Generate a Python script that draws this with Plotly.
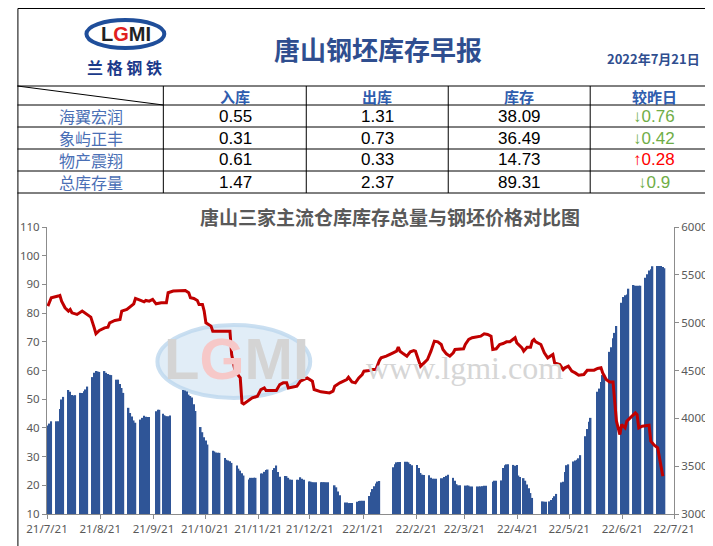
import pandas as pd
import plotly.graph_objects as go

# warehouse stock (10k t), one run of consecutive trading days per entry
bar_starts = [
    "2021-07-21", "2021-07-26", "2021-08-02", "2021-08-09", "2021-08-16",
    "2021-08-23", "2021-08-30", "2021-09-06", "2021-09-13", "2021-09-22",
    "2021-09-26", "2021-10-08", "2021-10-18", "2021-10-25", "2021-11-01",
    "2021-11-08", "2021-11-15", "2021-11-22", "2021-11-29", "2021-12-06",
    "2021-12-13", "2021-12-20", "2021-12-27", "2022-01-04", "2022-01-10",
    "2022-01-17", "2022-01-24", "2022-02-07", "2022-02-14", "2022-02-21",
    "2022-02-28", "2022-03-07", "2022-03-14", "2022-03-21", "2022-03-28",
    "2022-04-06", "2022-04-11", "2022-04-18", "2022-04-24", "2022-05-05",
    "2022-05-09", "2022-05-16", "2022-05-23", "2022-05-30", "2022-06-06",
    "2022-06-13", "2022-06-20", "2022-06-27", "2022-07-04", "2022-07-11",
]
bar_runs = [
    [40.8, 41.5, 42.3], [42.3, 42.3, 46.6, 49.9, 50.8],
    [53.2, 52.6, 51.5, 51.3, 51.4], [52.2, 52.2, 52.8, 53.4, 54.4],
    [57.7, 59.2, 59.8, 59.7, 59.5], [59.8, 59.2, 58.8, 58.5, 58.4],
    [56.8, 56.8, 55.3, 53.9, 52.2], [47.0, 45.2, 44.0, 42.6, 41.8],
    [42.9, 43.5, 44.2, 43.9, 43.8, 43.8], [45.8, 46.3, 46.3],
    [44.9, 44.4, 44.1, 44.1, 44.3], [53.2, 53.0, 52.7, 51.6, 51.1, 50.6, 48.2, 45.9],
    [40.3, 38.5, 36.7, 35.6, 34.2], [32.0, 31.8, 31.4, 31.3, 31.3],
    [29.5, 28.9, 28.6, 28.4, 27.8], [26.9, 25.8, 25.1, 24.2, 23.4],
    [22.0, 22.6, 22.6, 22.6, 22.6], [24.1, 24.1, 24.7, 25.3, 25.5],
    [25.3, 26.0, 26.9, 24.6, 23.0], [23.2, 23.2, 22.6, 22.0, 21.9],
    [21.9, 21.9, 22.8, 22.3, 21.9], [21.3, 21.3, 21.1, 21.1, 21.1],
    [21.1, 21.1, 21.1, 21.1, 21.1], [20.0, 19.3, 17.8, 16.5],
    [14.0, 14.0, 13.8, 13.8, 13.8], [14.3, 14.5, 14.6, 14.6, 14.6],
    [16.3, 17.6, 18.7, 19.7, 20.6, 21.3, 21.5], [26.3, 27.3, 28.0, 28.1, 28.1],
    [28.2, 28.2, 28.0, 27.4, 27.0], [27.1, 26.0, 24.3, 23.7, 23.6],
    [23.5, 22.6, 22.3, 22.3, 22.3], [22.5, 22.5, 22.9, 23.3, 23.7],
    [22.6, 21.6, 20.4, 20.0, 20.0], [19.9, 19.9, 19.9, 19.6, 19.6],
    [19.6, 19.6, 19.6, 19.7, 19.8, 19.8], [21.2, 21.6, 21.6],
    [21.7, 26.0, 27.0, 27.3, 27.3], [27.1, 26.8, 27.1, 23.4, 22.9],
    [22.5, 21.6, 20.3, 19.0, 17.3, 15.6], [14.4, 14.3, 14.3],
    [14.4, 14.9, 15.6, 16.2, 17.0], [21.0, 21.2, 24.6, 27.0, 27.3],
    [28.3, 28.6, 28.9, 29.4, 30.5], [37.1, 39.6, 42.1, 43.5],
    [52.6, 53.7, 56.0, 58.4, 58.6], [66.5, 68.1, 71.2, 73.1, 75.5],
    [83.6, 85.6, 86.2, 86.5, 88.5], [89.8, 89.5, 89.5, 89.5, 89.5],
    [92.3, 93.5, 94.8, 95.3, 96.3], [96.4, 96.4, 96.4, 96.1, 95.6],
]

# Tangshan billet price (yuan/t)
price_dates = [
    "2021-07-21", "2021-07-23", "2021-07-27", "2021-07-28", "2021-07-29", "2021-07-31",
    "2021-08-02", "2021-08-03", "2021-08-04", "2021-08-07", "2021-08-10", "2021-08-12",
    "2021-08-15", "2021-08-17", "2021-08-18", "2021-08-20", "2021-08-23", "2021-08-25",
    "2021-08-26", "2021-08-29", "2021-09-01", "2021-09-02", "2021-09-05", "2021-09-09",
    "2021-09-10", "2021-09-13", "2021-09-15", "2021-09-16", "2021-09-18", "2021-09-20",
    "2021-09-22", "2021-09-25", "2021-09-28", "2021-09-29", "2021-10-02", "2021-10-09",
    "2021-10-11", "2021-10-12", "2021-10-14", "2021-10-16", "2021-10-17", "2021-10-19",
    "2021-10-20", "2021-10-21", "2021-10-24", "2021-10-25", "2021-11-04", "2021-11-05",
    "2021-11-07", "2021-11-10", "2021-11-11", "2021-11-12", "2021-11-14", "2021-11-17",
    "2021-11-20", "2021-11-22", "2021-11-24", "2021-11-25", "2021-12-01", "2021-12-03",
    "2021-12-05", "2021-12-07", "2021-12-08", "2021-12-13", "2021-12-15", "2021-12-17",
    "2021-12-19", "2021-12-22", "2021-12-23", "2021-12-27", "2022-01-01", "2022-01-03",
    "2022-01-04", "2022-01-07", "2022-01-11", "2022-01-12", "2022-01-14", "2022-01-16",
    "2022-01-18", "2022-01-20", "2022-01-21", "2022-01-24", "2022-01-26", "2022-01-28",
    "2022-01-29", "2022-01-30", "2022-01-31", "2022-02-03", "2022-02-07", "2022-02-09",
    "2022-02-10", "2022-02-11", "2022-02-13", "2022-02-15", "2022-02-17", "2022-02-19",
    "2022-02-20", "2022-02-23", "2022-02-25", "2022-02-27", "2022-03-01", "2022-03-03",
    "2022-03-05", "2022-03-07", "2022-03-08", "2022-03-10", "2022-03-12", "2022-03-14",
    "2022-03-15", "2022-03-18", "2022-03-20", "2022-03-21", "2022-03-23", "2022-03-25",
    "2022-03-28", "2022-03-30", "2022-04-01", "2022-04-03", "2022-04-05", "2022-04-06",
    "2022-04-08", "2022-04-10", "2022-04-12", "2022-04-14", "2022-04-16", "2022-04-18",
    "2022-04-19", "2022-04-20", "2022-04-23", "2022-04-24", "2022-04-26", "2022-04-28",
    "2022-04-29", "2022-04-30", "2022-05-01", "2022-05-04", "2022-05-06", "2022-05-08",
    "2022-05-10", "2022-05-11", "2022-05-12", "2022-05-15", "2022-05-17", "2022-05-18",
    "2022-05-20", "2022-05-22", "2022-05-24", "2022-05-26", "2022-05-29", "2022-05-31",
    "2022-06-04", "2022-06-06", "2022-06-08", "2022-06-09", "2022-06-11", "2022-06-13",
    "2022-06-15", "2022-06-16", "2022-06-17", "2022-06-19", "2022-06-20", "2022-06-22",
    "2022-06-23", "2022-06-25", "2022-06-27", "2022-06-28", "2022-06-29", "2022-06-30",
    "2022-07-02", "2022-07-06", "2022-07-07", "2022-07-09", "2022-07-11", "2022-07-12",
    "2022-07-13", "2022-07-14",
]
price_values = [
    5173, 5260, 5278, 5285, 5225, 5156,
    5121, 5138, 5103, 5086, 5121, 5093,
    5058, 4946, 4884, 4918, 4946, 4953,
    4999, 5023, 5033, 5121, 5138, 5197,
    5253, 5232, 5218, 5232, 5225, 5243,
    5197, 5208, 5208, 5313, 5330, 5337,
    5313, 5260, 5253, 5232, 5190, 5190,
    5121, 4999, 4964, 4911, 4911, 4667,
    4493, 4423, 4162, 4151, 4179, 4214,
    4231, 4301, 4318, 4291, 4291, 4353,
    4371, 4371, 4318, 4336, 4388, 4406,
    4423, 4388, 4301, 4277, 4266, 4284,
    4336, 4371, 4406, 4430, 4381, 4371,
    4423, 4458, 4493, 4500, 4510, 4510,
    4563, 4604, 4632, 4650, 4685, 4702,
    4744, 4702, 4674, 4650, 4695, 4709,
    4702, 4545, 4580, 4615, 4702, 4807,
    4800, 4772, 4720, 4674, 4650, 4685,
    4720, 4727, 4727, 4772, 4824, 4842,
    4849, 4859, 4884, 4877, 4859, 4720,
    4727, 4772, 4782, 4800, 4800, 4824,
    4842, 4789, 4737, 4702, 4744, 4744,
    4807, 4824, 4800, 4772, 4685, 4632,
    4650, 4667, 4580, 4563, 4510, 4528,
    4545, 4493, 4475, 4451, 4458, 4503,
    4503, 4521, 4528, 4475, 4406, 4381,
    4381, 4144, 3970, 3830, 3935, 3900,
    3970, 4005, 4039, 4057, 4039, 3900,
    3918, 3928, 3761, 3719, 3691, 3586,
    3481, 3394,
]

# table at the top
table_header = ["入库", "出库", "库存", "较昨日"]
row_names = ["海翼宏润", "象屿正丰", "物产震翔", "总库存量"]
inflow = ["0.55", "0.31", "0.61", "1.47"]
outflow = ["1.31", "0.73", "0.33", "2.37"]
stock = ["38.09", "36.49", "14.73", "89.31"]
change = ["0.76", "0.42", "0.28", "0.9"]
change_up = [False, False, True, False]

report_title = "唐山钢坯库存早报"
report_date = "2022年7月21日"
chart_title = "唐山三家主流仓库库存总量与钢坯价格对比图"

# expand bar runs into daily points, centred in the day slot
bar_x, bar_y = [], []
for start, run in zip(bar_starts, bar_runs):
    for i, v in enumerate(run):
        bar_x.append(pd.Timestamp(start) + pd.Timedelta(days=i, hours=12))
        bar_y.append(v)
price_x = [pd.Timestamp(d) + pd.Timedelta(hours=12) for d in price_dates]

W, H = 713, 546
ML, MR, MT, MB = 30, 47, 219, 40
PW, PH = W - ML - MR, H - MT - MB


def px(x):
    return (x - ML) / PW


def py(y):
    return (H - MB - y) / PH


CJK = "Noto Sans CJK SC"
NARROW = "Liberation Sans Narrow, Liberation Sans, sans-serif"
BLUE_TXT = "#2f5dae"
LABEL_TXT = "#4a6fb5"

fig = go.Figure()
fig.add_trace(go.Bar(x=bar_x, y=bar_y, marker=dict(color="#2f5597", line=dict(width=0)),
                     name="库存总量"))
fig.add_trace(go.Scatter(x=price_x, y=price_values, yaxis="y2", mode="lines",
                         line=dict(color="#c00000", width=3), name="钢坯价格"))

shapes = []
line_k = dict(color="black", width=1)
# outer frame
shapes.append(dict(type="rect", xref="paper", yref="paper", x0=px(0.5), x1=px(712.5),
                   y0=py(0.5), y1=py(545.5), line=line_k))
# table grid
for yy in [78, 97, 119, 141, 163, 185]:
    shapes.append(dict(type="line", xref="paper", yref="paper", x0=px(0), x1=px(713),
                       y0=py(yy), y1=py(yy), line=line_k))
for xx in [148, 293, 437, 581]:
    shapes.append(dict(type="line", xref="paper", yref="paper", x0=px(xx), x1=px(xx),
                       y0=py(78), y1=py(185), line=line_k))
shapes.append(dict(type="line", xref="paper", yref="paper", x0=px(0), x1=px(148),
                   y0=py(78), y1=py(97), line=line_k))
# header logo oval
shapes.append(dict(type="circle", xref="paper", yref="paper", x0=px(70), x1=px(149),
                   y0=py(12), y1=py(40), fillcolor="white",
                   line=dict(color="#1f4e9a", width=4)))
# watermark oval
shapes.append(dict(type="circle", xref="paper", yref="paper", x0=px(142), x1=px(297),
                   y0=py(317), y1=py(390), layer="below",
                   fillcolor="rgba(189,215,238,0.45)",
                   line=dict(color="rgba(189,215,238,0.8)", width=4)))

ann = []


def text(x, y, s, size, color, family=CJK, bold=False):
    ann.append(dict(x=px(x), y=py(y), xref="paper", yref="paper", showarrow=False,
                    text=f"<b>{s}</b>" if bold else s, xanchor="center", yanchor="middle",
                    font=dict(size=size, color=color, family=family)))


text(110, 26, "L<span style='color:#e02020'>G</span>MI", 20, "#222222", "Liberation Sans", True)
text(109, 59, "兰 格 钢 铁", 16, "#1a3a8a", CJK, True)
text(366, 40, report_title, 26, "#2f4e8f", CJK, True)
text(645, 51, report_date, 13, "#2f4e8f", CJK, True)

col_x = [221, 365, 509, 646]
row_y = [108, 130, 152, 174]
for cx, h in zip(col_x, table_header):
    text(cx, 88, h, 15, BLUE_TXT, CJK, True)
for i, ry in enumerate(row_y):
    text(75, ry, row_names[i], 16, LABEL_TXT)
    text(col_x[0], ry, inflow[i], 17, "black", NARROW)
    text(col_x[1], ry, outflow[i], 17, "black", NARROW)
    text(col_x[2], ry, stock[i], 17, "black", NARROW)
    arrow = "↑" if change_up[i] else "↓"
    text(col_x[3], ry, arrow + change[i], 17, "#ff0000" if change_up[i] else "#70ad47", NARROW)

text(378, 208, chart_title, 19, "#595959", CJK, True)
# watermark
text(222, 350, "L<span style='color:#f6c8c8'>G</span>MI", 58, "#d4d4d4", "Liberation Sans", True)
text(453, 360, "www.lgmi.com", 32, "#d6d6d6", "Liberation Serif")

axis_col = "#8c8c8c"
tick_font = dict(size=11.5, color="#595959", family="Noto Sans")
fig.update_layout(
    width=W, height=H,
    margin=dict(l=ML, r=MR, t=MT, b=MB),
    paper_bgcolor="white", plot_bgcolor="white",
    showlegend=False, bargap=0.12,
    font=dict(family=CJK),
    xaxis=dict(type="date", range=["2021-07-21", "2022-07-21"], dtick="M1",
               tick0="2021-07-21", tickformat="%y/%-m/%d", ticks="outside", ticklen=4,
               tickcolor=axis_col, showline=True, linecolor=axis_col, showgrid=False,
               zeroline=False, tickfont=tick_font),
    yaxis=dict(range=[10, 110], dtick=10, ticks="outside", ticklen=4, tickcolor=axis_col,
               showline=True, linecolor=axis_col, showgrid=False, zeroline=False,
               tickfont=tick_font),
    yaxis2=dict(range=[3000, 6000], dtick=500, overlaying="y", side="right",
                ticks="outside", ticklen=4, tickcolor=axis_col, showline=True,
                linecolor=axis_col, showgrid=False, zeroline=False, tickfont=tick_font),
    shapes=shapes,
    annotations=ann,
)

fig.write_html("out.html")
